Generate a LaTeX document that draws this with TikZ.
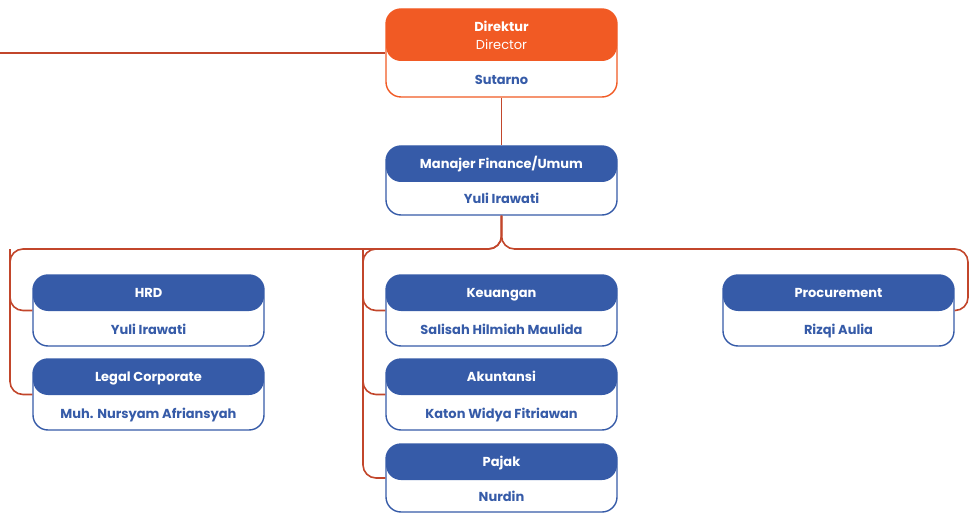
\documentclass[tikz,border=0pt]{standalone}
\usepackage{fontspec}
\setmainfont{Poppins}
\definecolor{orgorange}{HTML}{F15A24}
\definecolor{orgblue}{HTML}{365BA8}
\definecolor{orgline}{HTML}{C2462B}
\newcommand\orgbox[8]{%
  \node[box=#6, minimum height=#5pt,
    path picture={\fill[#6] (path picture bounding box.north west) rectangle ([yshift=-#4pt]path picture bounding box.north east);}]
    (#1) at ({#2+115.5},{#3+#5/2}) {};
  \path (#1.north) ++(0,{#4/2+4.8}) node[hdr] (#1-h) {#7};
  \path (#1.south) ++(0,{-(#5-#4)/2+4.8}) node[nm] (#1-n) {#8};
}
\begin{document}
\begin{tikzpicture}[x=1pt,y=-1pt,
  box/.style={draw=#1, line width=1.4pt, rounded corners=15pt, minimum width=231pt, inner sep=0pt, fill=white},
  hdr/.style={font=\bfseries\fontsize{13}{18}\selectfont, text=white, anchor=base, inner sep=0pt},
  nm/.style={font=\bfseries\fontsize{13}{14}\selectfont, text=orgblue, anchor=base, inner sep=0pt},
  conn/.style={draw=orgline, line width=1.6pt, rounded corners=13pt}]
\useasboundingbox (0,0) rectangle (969,513);
\coordinate (lstart) at (0,53);
\coordinate (busL) at (10,249);
\coordinate (busM) at (363,249);
\coordinate (busR) at (968,249);
\orgbox{dir}{386}{9}{52}{88}{orgorange}{}{Sutarno}
\path (dir.north) ++(0,23.3) node[hdr] (dir-h1) {Direktur};
\path (dir.north) ++(0,41.3) node[hdr, font=\fontsize{13}{18}\selectfont] (dir-h2) {Director};
\orgbox{mgr}{386}{146}{36}{69}{orgblue}{Manajer Finance/Umum}{Yuli Irawati}
\orgbox{hrd}{33}{275}{36}{71}{orgblue}{HRD}{Yuli Irawati}
\orgbox{legal}{33}{359}{36}{71}{orgblue}{Legal Corporate}{Muh. Nursyam Afriansyah}
\orgbox{keu}{386}{275}{36}{71}{orgblue}{Keuangan}{Salisah Hilmiah Maulida}
\orgbox{aku}{386}{359}{36}{71}{orgblue}{Akuntansi}{Katon Widya Fitriawan}
\orgbox{pajak}{386}{444}{36}{68}{orgblue}{Pajak}{Nurdin}
\orgbox{proc}{723}{275}{36}{71}{orgblue}{Procurement}{Rizqi Aulia}
\draw[conn] (lstart) -- (dir.west);
\draw[conn] (dir.south) -- (mgr.north);
\draw[conn] (mgr.south) |- (busL) |- (legal.west);
\draw[conn] (busL) |- (hrd.west);
\draw[conn] (mgr.south) |- (busM) |- (pajak.west);
\draw[conn] (busM) |- (keu.west);
\draw[conn] (busM) |- (aku.west);
\draw[conn] (mgr.south) |- (busR) |- (proc.east);
\end{tikzpicture}
\end{document}
